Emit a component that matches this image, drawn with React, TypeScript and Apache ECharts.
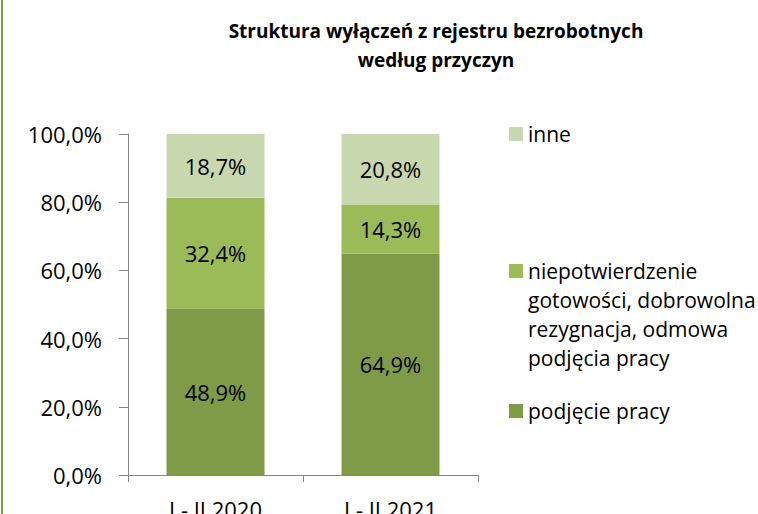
import React, { useEffect, useRef } from 'react';
import * as echarts from 'echarts';

const categories = ['I - II 2020', 'I - II 2021'];
const nameWork = 'podjęcie pracy';
const nameRefusal = 'niepotwierdzenie gotowości, dobrowolna rezygnacja, odmowa podjęcia pracy';
const nameOther = 'inne';
const refusalLegendLines = ['niepotwierdzenie', 'gotowości, dobrowolna', 'rezygnacja, odmowa', 'podjęcia pracy'];
const valuesWork = [48.9, 64.9];
const valuesRefusal = [32.4, 14.3];
const valuesOther = [18.7, 20.8];
const titleLines = ['Struktura wyłączeń z rejestru bezrobotnych', 'według przyczyn'];

const FONT = 'Open Sans';
const fmtPct = (v: number) => v.toFixed(1).replace('.', ',') + '%';

export default function App() {
  const ref = useRef<HTMLDivElement>(null);
  useEffect(() => {
    if (!ref.current) return;
    const chart = echarts.init(ref.current, undefined, { renderer: 'svg' });
    const labelCfg = {
      show: true,
      position: 'inside',
      color: '#000',
      fontFamily: FONT,
      fontSize: 22,
      formatter: (p: any) => fmtPct(p.value),
    };
    const legendText = { color: '#000', fontFamily: FONT, fontSize: 21, lineHeight: 29 };
    chart.setOption({
      animation: false,
      backgroundColor: '#fff',
      textStyle: { fontFamily: FONT },
      title: {
        text: titleLines.join('\n'),
        left: 436,
        top: 16,
        padding: 0,
        textAlign: 'center',
        textStyle: { fontFamily: FONT, fontWeight: 'bold', fontSize: 19, color: '#000', lineHeight: 29 },
      },
      graphic: [
        { type: 'rect', left: 1, top: 0, shape: { width: 2, height: 514 }, style: { fill: '#7A9A3E' } },
      ],
      legend: [
        {
          data: [nameOther], left: 509, top: 119.5, padding: 0, itemWidth: 14, itemHeight: 14,
          icon: 'rect', textStyle: legendText,
        },
        {
          data: [nameRefusal], left: 509, top: 169.5, padding: 0, itemWidth: 14, itemHeight: 14,
          icon: 'rect', formatter: () => '\n\n\n' + refusalLegendLines.join('\n'),
          textStyle: legendText,
        },
        {
          data: [nameWork], left: 509, top: 396.5, padding: 0, itemWidth: 14, itemHeight: 14,
          icon: 'rect', textStyle: legendText,
        },
      ],
      grid: { left: 128, right: 280, top: 134, bottom: 39, containLabel: false, outerBoundsMode: 'none' },
      xAxis: {
        type: 'category',
        data: categories,
        axisLine: { lineStyle: { color: '#868686', width: 1 } },
        axisTick: { show: true, length: 7, lineStyle: { color: '#868686' } },
        axisLabel: { color: '#000', fontFamily: FONT, fontSize: 22, margin: 23 },
      },
      yAxis: {
        type: 'value',
        min: 0,
        max: 100,
        interval: 20,
        axisLine: { show: true, lineStyle: { color: '#868686', width: 1 } },
        axisTick: { show: true, length: 9, lineStyle: { color: '#868686' } },
        splitLine: { show: false },
        axisLabel: { color: '#000', fontFamily: FONT, fontSize: 22, margin: 26, formatter: (v: number) => fmtPct(v) },
      },
      series: [
        { name: nameWork, type: 'bar', stack: 'a', data: valuesWork, barWidth: '56%', itemStyle: { color: '#7F9B48' }, label: labelCfg },
        { name: nameRefusal, type: 'bar', stack: 'a', data: valuesRefusal, barWidth: '56%', itemStyle: { color: '#9BBB59' }, label: labelCfg },
        { name: nameOther, type: 'bar', stack: 'a', data: valuesOther, barWidth: '56%', itemStyle: { color: '#C8D7AD' }, label: labelCfg },
      ],
    });
    return () => chart.dispose();
  }, []);
  return <div ref={ref} style={{ position: 'fixed', left: 0, top: 0, width: 758, height: 514 }} />;
}
